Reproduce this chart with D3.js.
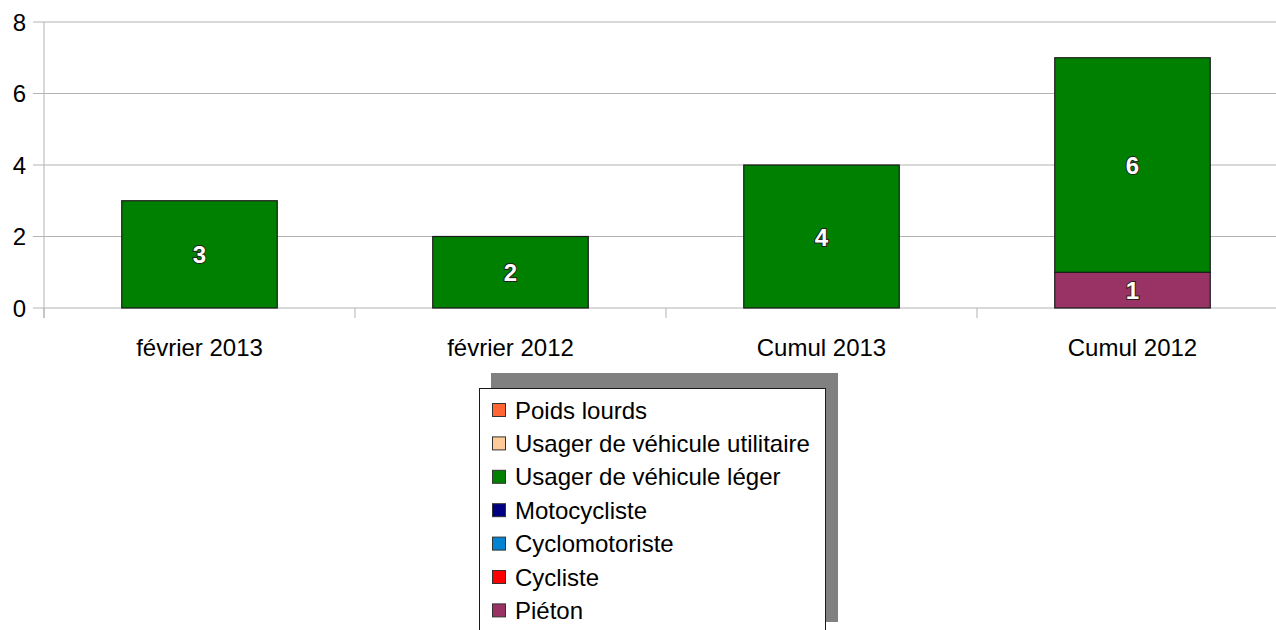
<!DOCTYPE html>
<html>
<head>
<meta charset="utf-8">
<script src="https://cdn.jsdelivr.net/npm/d3@7"></script>
<style>
  body { margin: 0; background: #fff; }
  svg { display: block; font-family: "Liberation Sans", Arial, sans-serif; }
</style>
</head>
<body>
<svg></svg>
<script>
// Data
const categories = ["février 2013", "février 2012", "Cumul 2013", "Cumul 2012"];
// series, bottom of stack first
const seriesNames = ["Piéton", "Cycliste", "Cyclomotoriste", "Motocycliste",
  "Usager de véhicule léger", "Usager de véhicule utilitaire", "Poids lourds"];
const pieton = [0, 0, 0, 1];
const cycliste = [0, 0, 0, 0];
const cyclomotoriste = [0, 0, 0, 0];
const motocycliste = [0, 0, 0, 0];
const vehiculeLeger = [3, 2, 4, 6];
const vehiculeUtilitaire = [0, 0, 0, 0];
const poidsLourds = [0, 0, 0, 0];
const yTicks = [0, 2, 4, 6, 8];

const seriesValues = [pieton, cycliste, cyclomotoriste, motocycliste,
  vehiculeLeger, vehiculeUtilitaire, poidsLourds];
const colors = ["#993366", "#ff0000", "#0084d1", "#000080",
  "#008000", "#ffcc99", "#ff6633"];

const W = 1276, H = 630;
const margin = { top: 22, right: -12, bottom: 322, left: 44 };
const width = W - margin.left - margin.right,
  height = H - margin.top - margin.bottom;

const svg = d3.select("svg").attr("width", W).attr("height", H);
const g = svg.append("g").attr("transform", `translate(${margin.left},${margin.top})`);

// table for stacking
const table = categories.map((c, i) => {
  const row = { cat: c };
  seriesNames.forEach((s, j) => (row[s] = seriesValues[j][i]));
  return row;
});
const stacked = d3.stack().keys(seriesNames)(table);

const x = d3.scaleBand().domain(categories).range([0, width]).paddingInner(0).paddingOuter(0);
const y = d3.scaleLinear().domain([0, 8]).range([height, 0]);

// gridlines
g.append("g")
  .selectAll("line")
  .data(yTicks)
  .join("line")
  .attr("x1", -11)
  .attr("x2", width)
  .attr("y1", (d) => y(d))
  .attr("y2", (d) => y(d))
  .attr("stroke", "#b3b3b3")
  .attr("stroke-width", 1);

// y labels
g.append("g")
  .selectAll("text")
  .data(yTicks)
  .join("text")
  .attr("x", -18)
  .attr("y", (d) => y(d))
  .attr("dy", "0.36em")
  .attr("text-anchor", "end")
  .attr("font-size", 24)
  .text((d) => d);

// y axis line
g.append("line")
  .attr("x1", 0).attr("x2", 0)
  .attr("y1", 0).attr("y2", height + 10)
  .attr("stroke", "#b3b3b3");

// x ticks between categories
g.append("g")
  .selectAll("line")
  .data(categories)
  .join("line")
  .attr("x1", (d) => x(d))
  .attr("x2", (d) => x(d))
  .attr("y1", height)
  .attr("y2", height + 10)
  .attr("stroke", "#b3b3b3");

// x labels
g.append("g")
  .selectAll("text")
  .data(categories)
  .join("text")
  .attr("x", (d) => x(d) + x.bandwidth() / 2)
  .attr("y", height + 39)
  .attr("dy", "0.36em")
  .attr("text-anchor", "middle")
  .attr("font-size", 24)
  .text((d) => d);

// bars
const barW = x.bandwidth() / 2;
const layers = g.append("g")
  .selectAll("g")
  .data(stacked)
  .join("g")
  .attr("fill", (d, i) => colors[i]);

layers.selectAll("rect")
  .data((d) => d.filter((p) => p[1] - p[0] > 0))
  .join("rect")
  .attr("x", (d) => x(d.data.cat) + (x.bandwidth() - barW) / 2)
  .attr("y", (d) => y(d[1]))
  .attr("width", barW)
  .attr("height", (d) => y(d[0]) - y(d[1]))
  .attr("stroke", "#1a1a1a")
  .attr("stroke-width", 1.2);

// value labels
layers.selectAll("text")
  .data((d) => d.filter((p) => p[1] - p[0] > 0))
  .join("text")
  .attr("x", (d) => x(d.data.cat) + x.bandwidth() / 2)
  .attr("y", (d) => (y(d[0]) + y(d[1])) / 2)
  .attr("dy", "0.38em")
  .attr("text-anchor", "middle")
  .attr("font-size", 24)
  .attr("font-weight", "bold")
  .attr("fill", "#fff")
  .attr("stroke", "#222")
  .attr("stroke-width", 2)
  .attr("paint-order", "stroke")
  .text((d) => d[1] - d[0]);

// legend
const legendNames = seriesNames.slice().reverse();
const legendColors = colors.slice().reverse();
const lg = svg.append("g");
lg.append("rect")
  .attr("x", 491).attr("y", 373).attr("width", 347).attr("height", 249)
  .attr("fill", "#808080");
lg.append("rect")
  .attr("x", 479.5).attr("y", 388.5).attr("width", 346).attr("height", 260)
  .attr("fill", "#fff").attr("stroke", "#1a1a1a").attr("stroke-width", 1);

const items = lg.selectAll("g.item")
  .data(legendNames)
  .join("g")
  .attr("class", "item")
  .attr("transform", (d, i) => `translate(492,${410 + i * 33.4})`);
items.append("rect")
  .attr("x", 0.5).attr("y", -6.5).attr("width", 13).attr("height", 13)
  .attr("fill", (d, i) => legendColors[i])
  .attr("stroke", "#333");
items.append("text")
  .attr("x", 23)
  .attr("y", 0)
  .attr("dy", "0.36em")
  .attr("font-size", 24)
  .text((d) => d);
</script>
</body>
</html>
